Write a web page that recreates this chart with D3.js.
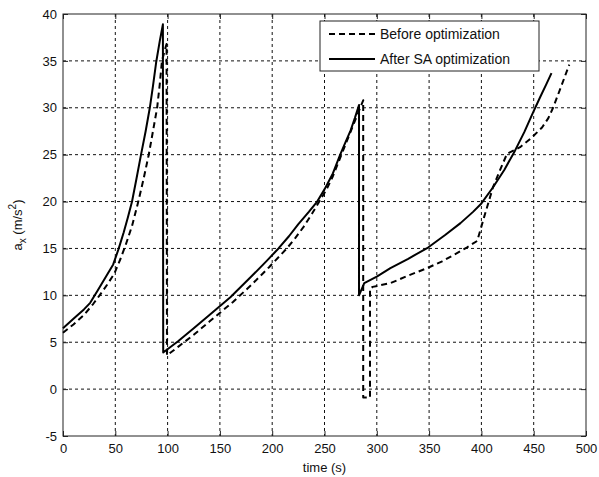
<!DOCTYPE html>
<html lang="en">
<head>
    <meta charset="UTF-8">
    <title>a_x before and after SA optimization</title>
    <script src="https://d3js.org/d3.v7.min.js"></script>
    <style>
        body { margin: 0; background: #fff; }
        svg { display: block; font-family: "Liberation Sans", Arial, sans-serif; }
        .tick text { font-size: 13px; fill: #111; }
        .grid line { stroke: #111; stroke-width: 1; stroke-dasharray: 3,3; }
        .series { fill: none; stroke: #000; stroke-width: 2; stroke-linejoin: round; }
    </style>
</head>
<body>
    <svg id="chart" width="599" height="477"></svg>

    <script>
        // tick values
        const xTicks = [0, 50, 100, 150, 200, 250, 300, 350, 400, 450, 500];
        const yTicks = [-5, 0, 5, 10, 15, 20, 25, 30, 35, 40];

        // Before optimization (dashed)
        const beforeT = [0, 10, 20, 29, 35, 42, 49, 55, 60, 66, 72, 77, 82, 86, 90, 92.5, 94.6, 97, 99,
            99.4, 110, 125, 140, 162.5, 180, 197, 214, 222, 230, 238, 245, 252, 258, 263, 268, 273, 278, 283, 287,
            287, 293.5,
            293.5, 296, 313, 330, 348, 362, 375, 386, 396, 403, 411, 418, 424.5, 430, 437, 447, 458, 464, 468.5, 476, 484];
        const beforeA = [6.0, 6.9, 7.9, 9.1, 10.0, 11.1, 12.3, 13.9, 15.4, 17.4, 20, 22.4, 25, 27.5, 30, 32.5, 35, 36, 36.8,
            3.6, 4.5, 5.8, 7.2, 9.3, 11.1, 13, 15, 16.1, 17.3, 18.7, 20, 21.3, 22.7, 24.1, 25.5, 26.9, 28.3, 29.7, 30.8,
            -0.9, -0.9,
            10.7, 10.9, 11.3, 12.1, 12.9, 13.6, 14.4, 15.1, 15.8, 18.5, 21.5, 23.4, 25.1, 25.4, 25.8, 26.7, 27.9, 28.9, 30, 32.2, 34.6];

        // After SA optimization (solid)
        const afterT = [0, 10, 20, 26, 33, 40, 48, 53, 58, 62, 66, 70, 74.6, 79, 83, 86, 89, 92.5, 95.5,
            95.8, 110, 125, 140, 160, 180, 195, 206, 216, 225, 235, 243, 250, 258, 265, 270, 275, 279, 283,
            283, 288, 300, 313, 330, 349, 365, 380, 392, 400, 411, 422, 432, 441, 449, 456, 462, 467];
        const afterA = [6.5, 7.5, 8.5, 9.2, 10.5, 11.8, 13.3, 14.9, 16.7, 18.3, 20, 22.3, 25, 27.5, 30, 32.3, 34.8, 37.1, 38.9,
            3.9, 5.1, 6.5, 7.9, 9.8, 12.0, 13.7, 15, 16.3, 17.6, 18.9, 20, 21.3, 23, 25, 26.3, 27.6, 28.9, 30.3,
            10, 11.3, 12.0, 12.9, 13.9, 15.1, 16.4, 17.7, 18.9, 19.8, 21.5, 23.4, 25.4, 27.4, 29.4, 31.1, 32.5, 33.7];

        const legendLabels = ["Before optimization", "After SA optimization"];

        const margin = {top: 14, right: 13, bottom: 41, left: 63};
        const width = 599 - margin.left - margin.right;
        const height = 477 - margin.top - margin.bottom;

        const svg = d3.select("#chart");
        const g = svg.append("g").attr("transform", `translate(${margin.left},${margin.top})`);

        const x = d3.scaleLinear().domain([0, 500]).range([0, width]);
        const y = d3.scaleLinear().domain([-5, 40]).range([height, 0]);

        // grid
        const grid = g.append("g").attr("class", "grid");
        grid.selectAll(".vx").data(xTicks.slice(1, -1)).enter().append("line")
            .attr("x1", d => x(d)).attr("x2", d => x(d))
            .attr("y1", 0).attr("y2", height);
        grid.selectAll(".hy").data(yTicks.slice(1, -1)).enter().append("line")
            .attr("x1", 0).attr("x2", width)
            .attr("y1", d => y(d)).attr("y2", d => y(d));

        // axes with inward ticks
        const fmt = d => String(d); // plain hyphen for -5
        const xb = g.append("g").attr("transform", `translate(0,${height})`)
            .call(d3.axisBottom(x).tickValues(xTicks).tickSize(-5).tickPadding(8).tickFormat(fmt));
        const xt = g.append("g")
            .call(d3.axisTop(x).tickValues(xTicks).tickSize(-5).tickFormat(""));
        const yl = g.append("g")
            .call(d3.axisLeft(y).tickValues(yTicks).tickSize(-5).tickPadding(6).tickFormat(fmt));
        const yr = g.append("g").attr("transform", `translate(${width},0)`)
            .call(d3.axisRight(y).tickValues(yTicks).tickSize(-5).tickFormat(""));
        [xb, xt, yl, yr].forEach(a => {
            a.select(".domain").remove();
            a.selectAll(".tick line").attr("stroke", "#222");
        });

        g.append("rect")
            .attr("width", width).attr("height", height)
            .attr("fill", "none").attr("stroke", "#222").attr("stroke-width", 1);

        // series
        const line = d3.line().x(d => x(d[0])).y(d => y(d[1]));
        const beforeData = beforeT.map((t, i) => [t, beforeA[i]]);
        const afterData = afterT.map((t, i) => [t, afterA[i]]);

        g.append("path").datum(beforeData).attr("class", "series")
            .attr("stroke-dasharray", "6,4").attr("d", line);
        g.append("path").datum(afterData).attr("class", "series").attr("d", line);

        // legend
        const lg = svg.append("g").attr("transform", "translate(320,21)");
        lg.append("rect").attr("width", 219).attr("height", 50)
            .attr("fill", "#fff").attr("stroke", "#222").attr("stroke-width", 1);
        legendLabels.forEach((lab, i) => {
            const yy = 13 + i * 25;
            lg.append("line").attr("x1", 9).attr("x2", 55)
                .attr("y1", yy).attr("y2", yy)
                .attr("stroke", "#000").attr("stroke-width", 2)
                .attr("stroke-dasharray", i === 0 ? "6,4" : null);
            lg.append("text").attr("x", 60).attr("y", yy + 5)
                .attr("font-size", 14).attr("fill", "#111").text(lab);
        });

        // axis titles
        svg.append("text")
            .attr("x", margin.left + width / 2).attr("y", 472)
            .attr("text-anchor", "middle").attr("font-size", 13).attr("fill", "#111")
            .text("time (s)");

        const yt = svg.append("text")
            .attr("transform", `translate(22,${margin.top + height / 2}) rotate(-90)`)
            .attr("text-anchor", "middle").attr("font-size", 13).attr("fill", "#111");
        yt.append("tspan").text("a");
        yt.append("tspan").attr("font-size", 10).attr("dy", 4).text("x");
        yt.append("tspan").attr("dy", -4).text(" (m/s");
        yt.append("tspan").attr("font-size", 10).attr("dy", -6).text("2");
        yt.append("tspan").attr("dy", 6).text(")");
    </script>
</body>
</html>
